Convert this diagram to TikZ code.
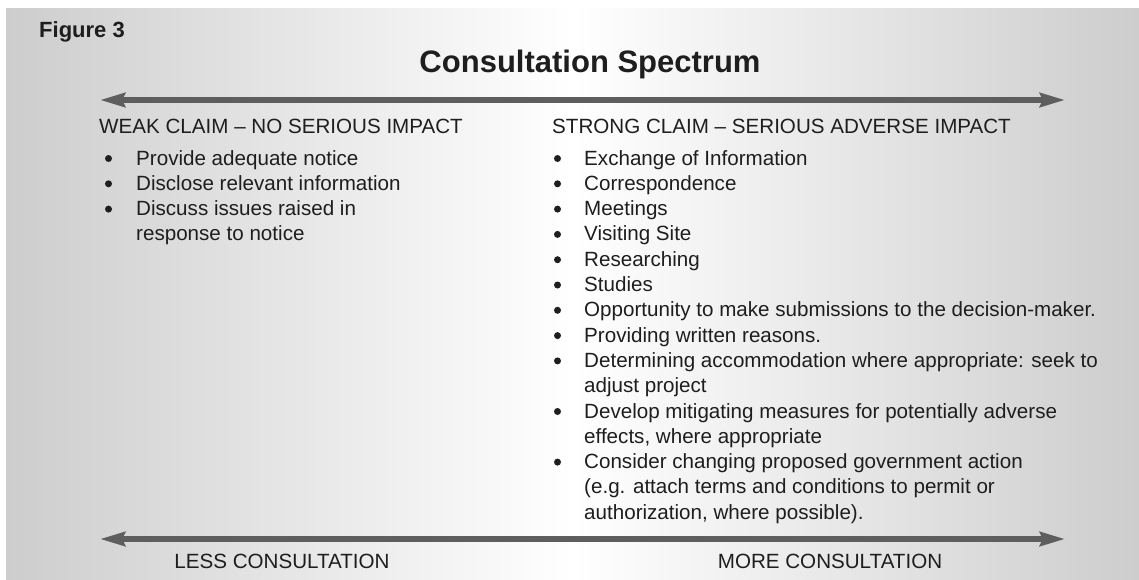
\documentclass[tikz,border=0pt]{standalone}
\usepackage{fontspec}
\setmainfont{Liberation Sans}
\usetikzlibrary{arrows.meta,positioning}
\definecolor{bgside}{HTML}{CDCDCD}
\definecolor{arrowgray}{HTML}{5E5E5E}
\definecolor{inkgray}{HTML}{1E1E1E}
\tikzset{
heading/.style={
  anchor=base west,
  inner sep=0pt,
  text=inkgray,
  font=\fontsize{20.6}{25.3}\selectfont},
item/.style={heading},
dot/.style={
  circle,
  fill=inkgray,
  inner sep=0pt,
  minimum size=7pt},
spectrum/.style={
  draw=arrowgray,
  line width=5.5pt,
  {Stealth[length=25pt,width=14pt,inset=3pt]}-{Stealth[length=25pt,width=14pt,inset=3pt]}}
}

\begin{document}
\begin{tikzpicture}[x=1pt,y=-1pt]
    \useasboundingbox (0,0) rectangle (1139,579);
    \shade[left color=bgside, right color=bgside, middle color=white] (6,8) rectangle (1139,579);
    \node[anchor=base west, inner sep=0pt, text=inkgray, font=\fontsize{22}{26}\selectfont\bfseries] (fig) at (39,37) {Figure 3};
    \node[anchor=base, inner sep=0pt, text=inkgray, font=\fontsize{31}{36}\selectfont\bfseries] (title) at (590,72) {Consultation Spectrum};
    % spectrum arrows
    \coordinate (topL) at (100,100);
    \coordinate (topR) at (1065,100);
    \coordinate (botL) at (100,539);
    \coordinate (botR) at (1065,539);
    \path [spectrum] (topL) -- (topR);
    \path [spectrum] (botL) -- (botR);
    % column headings
    \node[heading] (weak) at (99,133) {WEAK CLAIM – NO SERIOUS IMPACT};
    \node[heading] (strong) at (552,133) {STRONG CLAIM – SERIOUS ADVERSE IMPACT};
    % weak claim items
    \node[item] (l1) at (136,165) {Provide adequate notice};
    \node[item] (l2) at (136,190.3) {Disclose relevant information};
    \node[item] (l3) at (136,215.6) {Discuss issues raised in};
    \node[item] (l4) at (136,240.9) {response to notice};
    \node[dot] (ld1) at (108.5,158.5) {};
    \node[dot] (ld2) at (108.5,183.8) {};
    \node[dot] (ld3) at (108.5,209.1) {};
    % strong claim items
    \node[item] (r1) at (584,165) {Exchange of Information};
    \node[item] (r2) at (584,190.3) {Correspondence};
    \node[item] (r3) at (584,215.6) {Meetings};
    \node[item] (r4) at (584,240.9) {Visiting Site};
    \node[item] (r5) at (584,266.2) {Researching};
    \node[item] (r6) at (584,291.5) {Studies};
    \node[item] (r7) at (584,316.8) {Opportunity to make submissions to the decision-maker.};
    \node[item] (r8) at (584,342.1) {Providing written reasons.};
    \node[item] (r9) at (584,367.4) {Determining accommodation where appropriate: seek to};
    \node[item] (r10) at (584,392.7) {adjust project};
    \node[item] (r11) at (584,418.0) {Develop mitigating measures for potentially adverse};
    \node[item] (r12) at (584,443.3) {effects, where appropriate};
    \node[item] (r13) at (584,468.6) {Consider changing proposed government action};
    \node[item] (r14) at (584,493.9) {(e.g. attach terms and conditions to permit or};
    \node[item] (r15) at (584,519.2) {authorization, where possible).};
    \foreach \i in {1,2,3,4,5,6,7,8,9,11,13}
      \node[dot] (rd\i) at (557.5,{158.5+25.3*(\i-1)}) {};
    % bottom labels
    \node[heading, anchor=base] (less) at (282,568) {LESS CONSULTATION};
    \node[heading, anchor=base] (more) at (830,568) {MORE CONSULTATION};
\end{tikzpicture}
\end{document}
